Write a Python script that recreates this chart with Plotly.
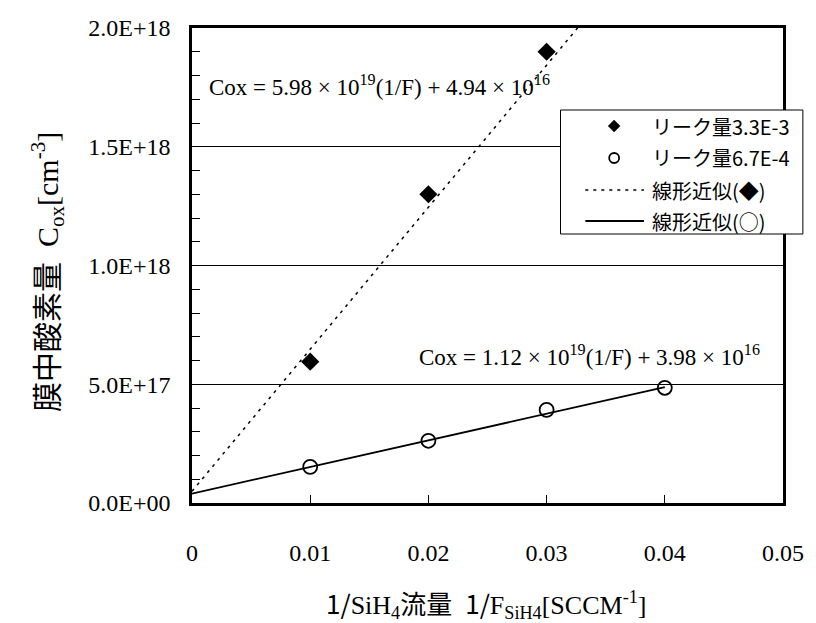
import plotly.graph_objects as go

# Measured oxygen content in film vs. 1/SiH4 flow, for two leak rates
inv_flow = [0.01, 0.02, 0.03]
cox_leak_high = [5.95e17, 1.30e18, 1.90e18]      # leak 3.3E-3

inv_flow_low = [0.01, 0.02, 0.03, 0.04]
cox_leak_low = [1.52e17, 2.62e17, 3.92e17, 4.85e17]  # leak 6.7E-4

# Linear fit coefficients (slope, intercept) for each series
fit_high = (5.98e19, 4.94e16)
fit_low = (1.12e19, 3.98e16)
fit_x = [0.0, 0.04]

y_tickvals = [0, 5e17, 1e18, 1.5e18, 2e18]
y_ticktext = ["0.0E+00", "5.0E+17", "1.0E+18", "1.5E+18", "2.0E+18"]
x_tickvals = [0, 0.01, 0.02, 0.03, 0.04, 0.05]
x_ticktext = ["0", "0.01", "0.02", "0.03", "0.04", "0.05"]

legend_names = ["リーク量3.3E-3", "リーク量6.7E-4", "線形近似(◆)", "線形近似(○)"]

SERIF = "Liberation Serif, Times New Roman, serif"
GOTHIC = "Noto Sans CJK JP, sans-serif"

W, H = 816, 623
L, R, T, B = 192, 29, 28, 120
PW, PH = W - L - R, H - T - B


def px(x):
    """pixel column -> paper x"""
    return (x - L) / PW


def py(y):
    """pixel row -> paper y"""
    return (H - B - y) / PH


def g(text):
    return f'<span style="font-family:{GOTHIC}">{text}</span>'


fig = go.Figure()

# fit lines
fig.add_trace(go.Scatter(
    x=fit_x, y=[fit_high[0] * v + fit_high[1] for v in fit_x],
    mode="lines", line=dict(color="black", width=1.5, dash="3px,5px"),
    showlegend=False, hoverinfo="skip"))
fig.add_trace(go.Scatter(
    x=fit_x, y=[fit_low[0] * v + fit_low[1] for v in fit_x],
    mode="lines", line=dict(color="black", width=1.8),
    showlegend=False, hoverinfo="skip"))

# data points
fig.add_trace(go.Scatter(
    x=inv_flow, y=cox_leak_high, mode="markers",
    marker=dict(symbol="diamond", size=14, color="black"),
    showlegend=False, cliponaxis=False))
fig.add_trace(go.Scatter(
    x=inv_flow_low, y=cox_leak_low, mode="markers",
    marker=dict(symbol="circle-open", size=14, color="black",
                line=dict(width=1.8, color="black")),
    showlegend=False, cliponaxis=False))

# fit equations
eq_high = "Cox = 5.98 × 10<sup>19</sup>(1/F) + 4.94 × 10<sup>16</sup>"
eq_low = "Cox = 1.12 × 10<sup>19</sup>(1/F) + 3.98 × 10<sup>16</sup>"
fig.add_annotation(x=0.0013, y=1.76e18, text=eq_high, showarrow=False,
                   xanchor="left", yanchor="middle",
                   font=dict(family=SERIF, size=23, color="black"))
fig.add_annotation(x=0.019, y=6.23e17, text=eq_low, showarrow=False,
                   xanchor="left", yanchor="middle",
                   font=dict(family=SERIF, size=23, color="black"))

# legend box (Excel style): frame, line samples, symbols, labels
shapes = [
    dict(type="rect", xref="paper", yref="paper",
         x0=px(563), x1=px(807), y0=py(234), y1=py(110),
         line=dict(color="black", width=1), fillcolor="white", layer="above"),
]
rows = [126, 158, 190, 221]
sx0, sx1, sxc = 588, 647, 617
# dotted line sample
shapes.append(dict(type="line", xref="paper", yref="paper",
                   x0=px(sx0), x1=px(sx1), y0=py(rows[2]), y1=py(rows[2]),
                   line=dict(color="black", width=1.5, dash="3px,5px"),
                   layer="above"))
# solid line sample
shapes.append(dict(type="line", xref="paper", yref="paper",
                   x0=px(sx0), x1=px(sx1), y0=py(rows[3]), y1=py(rows[3]),
                   line=dict(color="black", width=1.8), layer="above"))
# diamond symbol
d = 6
shapes.append(dict(
    type="path", xref="paper", yref="paper",
    path=(f"M {px(sxc - d)} {py(rows[0])} L {px(sxc)} {py(rows[0] - d)} "
          f"L {px(sxc + d)} {py(rows[0])} L {px(sxc)} {py(rows[0] + d)} Z"),
    fillcolor="black", line=dict(color="black", width=0.5), layer="above"))
# open circle symbol
c = 5
shapes.append(dict(type="circle", xref="paper", yref="paper",
                   x0=px(sxc - c), x1=px(sxc + c),
                   y0=py(rows[1] + c), y1=py(rows[1] - c),
                   line=dict(color="black", width=1.8), layer="above"))
for name, ry in zip(legend_names, rows):
    fig.add_annotation(xref="paper", yref="paper", x=px(653), y=py(ry),
                       text=name, showarrow=False, xanchor="left",
                       yanchor="middle",
                       font=dict(family=GOTHIC, size=20, color="black"))

# axis titles
fig.add_annotation(
    xref="paper", yref="paper", x=px(488), y=py(603),
    text=(g("1/") + "SiH<sub>4</sub>" + g("流量") + "  " + g("1/")
          + "F<sub>SiH4</sub>[SCCM<sup>-1</sup>]"),
    showarrow=False, xanchor="center", yanchor="middle",
    font=dict(family=SERIF, size=26, color="black"))
fig.add_annotation(
    xref="paper", yref="paper", x=px(45), y=py(272), textangle=-90,
    text=g("膜中酸素量") + "  C<sub>ox</sub>[cm<sup>-3</sup>]",
    showarrow=False, xanchor="center", yanchor="middle",
    font=dict(family=SERIF, size=30, color="black"))

fig.update_layout(
    width=W, height=H,
    margin=dict(l=L, r=R, t=T, b=B),
    paper_bgcolor="white", plot_bgcolor="white",
    font=dict(family=SERIF, color="black"),
    showlegend=False,
    shapes=shapes,
)

fig.update_xaxes(
    range=[0, 0.05], tickvals=x_tickvals, ticktext=x_ticktext,
    showline=True, linewidth=2.5, linecolor="black", mirror=True,
    ticks="inside", ticklen=8, tickwidth=1, tickcolor="black",
    showgrid=False, zeroline=False, ticklabelstandoff=26,
    tickfont=dict(family=SERIF, size=24),
)
fig.update_yaxes(
    range=[0, 2e18], tickvals=y_tickvals, ticktext=y_ticktext,
    showline=True, linewidth=2.5, linecolor="black", mirror=True,
    ticks="inside", ticklen=8, tickwidth=1, tickcolor="black",
    minor=dict(dtick=1e17, ticks="inside", ticklen=8, tickcolor="black",
               showgrid=False),
    showgrid=True, gridcolor="black", gridwidth=1, zeroline=False,
    ticklabelstandoff=14,
    tickfont=dict(family=SERIF, size=24),
)

fig.write_html("out.html")
